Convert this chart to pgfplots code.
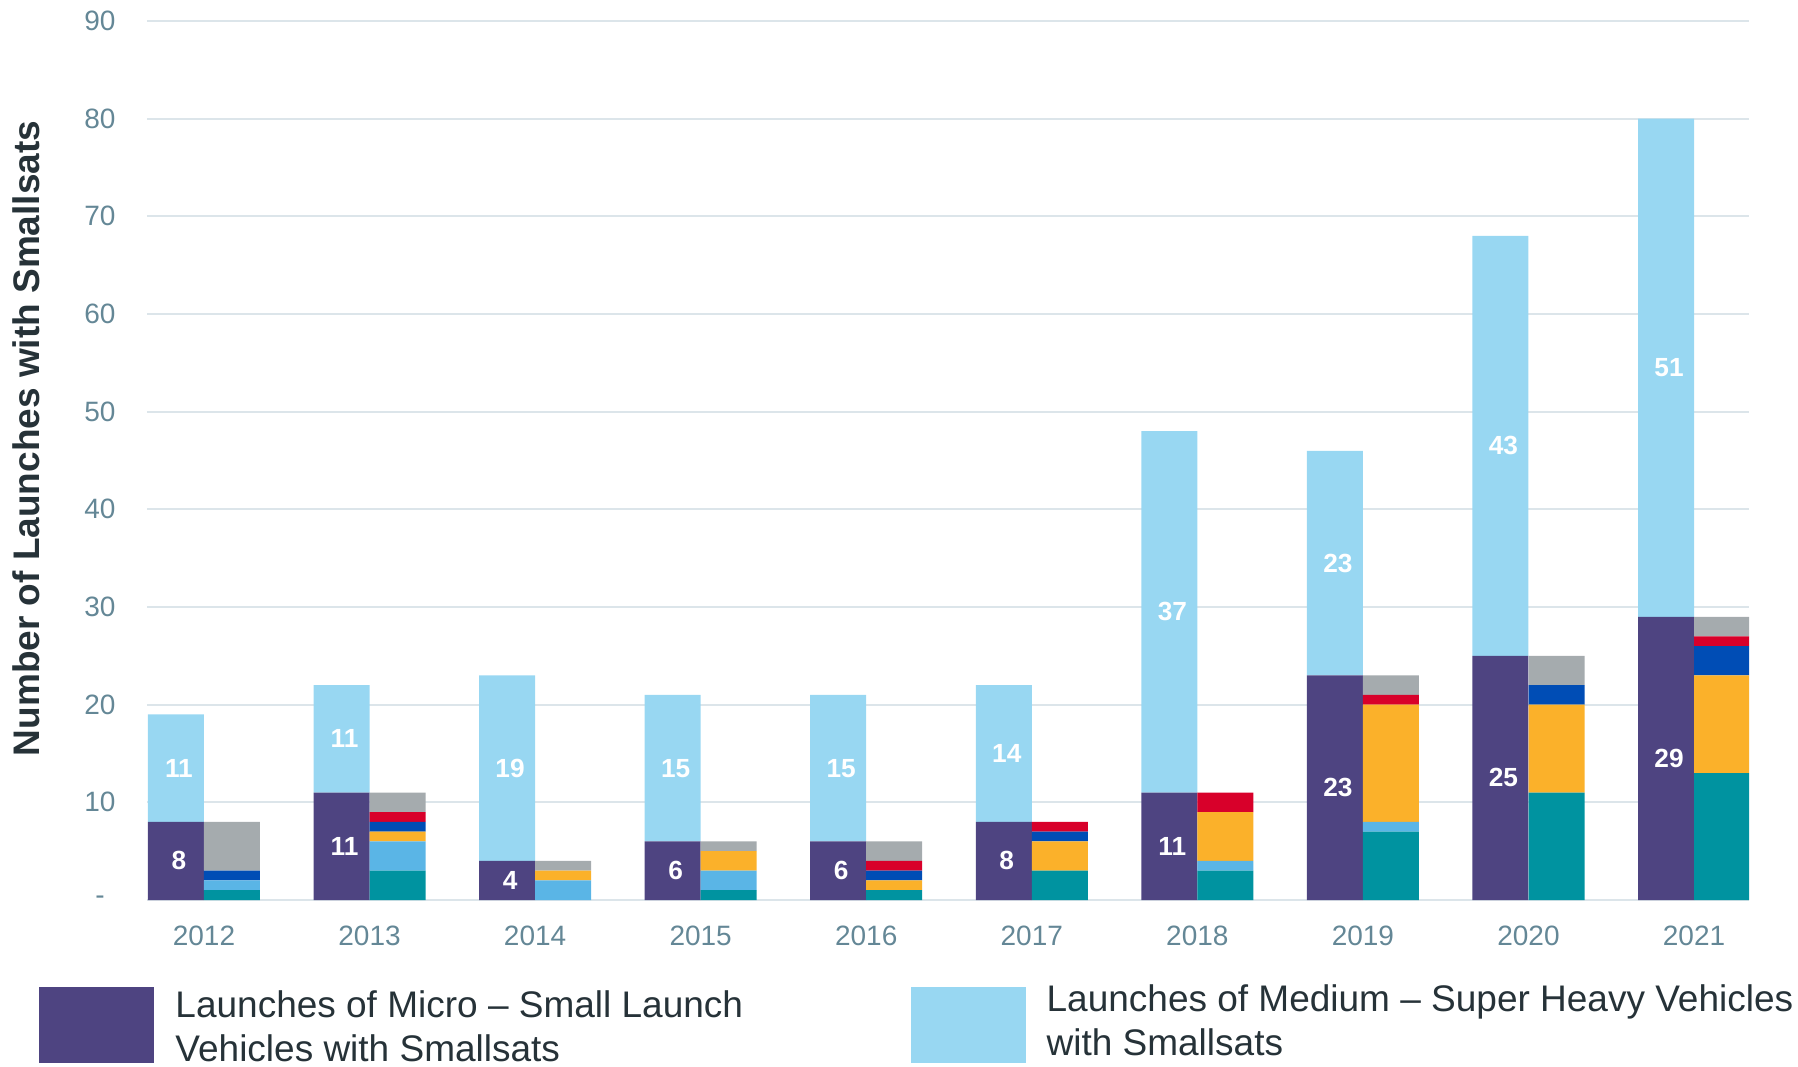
\documentclass[border=0pt]{standalone}
\usepackage{fontspec}
\setmainfont{Liberation Sans}
\usepackage{pgfplots}
\usepackage{pgfplotstable}
\pgfplotsset{compat=1.18}
\definecolor{cmicro}{HTML}{4E4481}
\definecolor{cmed}{HTML}{98D7F2}
\definecolor{cteal}{HTML}{0093A0}
\definecolor{clblue}{HTML}{5AB5E6}
\definecolor{corange}{HTML}{FBB12A}
\definecolor{cdblue}{HTML}{004DB5}
\definecolor{cred}{HTML}{D8002A}
\definecolor{cgray}{HTML}{A5ABAE}
\definecolor{cgrid}{HTML}{DCE5EA}
\definecolor{ctick}{HTML}{648796}
\definecolor{ctext}{HTML}{263238}

\pgfplotstableread{
x micro medium
0 8 11
1 11 11
2 4 19
3 6 15
4 6 15
5 8 14
6 11 37
7 23 23
8 25 43
9 29 51
}\groupA

\pgfplotstableread{
x teal lblue orange dblue red gray
0 1 1 0 1 0 5
1 3 3 1 1 1 2
2 0 2 1 0 0 1
3 1 2 2 0 0 1
4 1 0 1 1 1 2
5 3 0 3 1 1 0
6 3 1 5 0 2 0
7 7 1 12 0 1 2
8 11 0 9 2 0 3
9 13 0 10 3 1 2
}\groupB

\pgfplotsset{
  base/.style={
    width=640.8pt, height=351.6pt, scale only axis,
    at={(0,0)}, anchor=south west,
    xmin=-0.344, xmax=9.332, ymin=0, ymax=90,
  },
  sqlegend/.style={legend image code/.code={\fill[##1,draw=none] (0pt,-16.6pt) rectangle (46pt,13.8pt);}},
  barlbl/.style={draw=none, mark=none, nodes near coords, point meta=explicit symbolic,
    every node near coord/.append style={anchor=center, xshift=-10pt, text=white,
      font=\bfseries\fontsize{10.5}{12}\selectfont}},
}

\begin{document}
\begin{tikzpicture}
\begin{axis}[base, ybar stacked, bar width=22.4pt,
  axis line style={draw=none}, major tick length=0pt,
  ymajorgrids, major grid style={cgrid, line width=0.8pt},
  xtick={0,1,2,3,4,5,6,7,8,9},
  xticklabels={2012,2013,2014,2015,2016,2017,2018,2019,2020,2021},
  ytick={0,10,20,30,40,50,60,70,80,90},
  yticklabels={-,10,20,30,40,50,60,70,80,90},
  tick label style={font=\fontsize{11.2}{13}\selectfont, text=ctick},
  yticklabel style={anchor=center, xshift=-18.8pt},
  xticklabel style={yshift=-7pt},
  ylabel={Number of Launches with Smallsats},
  ylabel style={font=\bfseries\fontsize{14.8}{16}\selectfont, text=ctext, at={(axis description cs:-0.0755,0.525)}, anchor=center},
  legend columns=2,
  legend style={at={(axis description cs:0,0)}, anchor=north west, xshift=-43.2pt, yshift=-33.6pt,
    draw=none, fill=none, inner sep=0pt, font=\fontsize{14.8}{17.6}\selectfont, text=ctext,
    nodes={inner sep=0pt, align=left},
    /tikz/every odd column/.append style={column sep=8.4pt},
    /tikz/column 2/.append style={column sep=67pt}},
]
\addplot[fill=cmicro, draw=none, bar shift=-11.2pt, sqlegend] table[x=x,y=micro]{\groupA};
\addlegendentry[yshift=-2.4pt]{Launches of Micro – Small Launch\\Vehicles with Smallsats}
\addplot[fill=cmed, draw=none, bar shift=-11.2pt, sqlegend] table[x=x,y=medium]{\groupA};
\addlegendentry{Launches of Medium – Super Heavy Vehicles\\with Smallsats}
\end{axis}

\begin{axis}[base, hide axis, ybar stacked, bar width=22.4pt]
\addplot[fill=cteal, draw=none, bar shift=11.2pt] table[x=x,y=teal]{\groupB};
\addplot[fill=clblue, draw=none, bar shift=11.2pt] table[x=x,y=lblue]{\groupB};
\addplot[fill=corange, draw=none, bar shift=11.2pt] table[x=x,y=orange]{\groupB};
\addplot[fill=cdblue, draw=none, bar shift=11.2pt] table[x=x,y=dblue]{\groupB};
\addplot[fill=cred, draw=none, bar shift=11.2pt] table[x=x,y=red]{\groupB};
\addplot[fill=cgray, draw=none, bar shift=11.2pt] table[x=x,y=gray]{\groupB};
\end{axis}

\begin{axis}[base, hide axis]
\addplot[barlbl] table[x=x, y expr=\thisrow{micro}/2, meta=micro]{\groupA};
\addplot[barlbl] table[x=x, y expr=\thisrow{micro}+\thisrow{medium}/2, meta=medium]{\groupA};
\end{axis}

\path (-58.8pt,-66.4pt) rectangle (660.4pt,360pt);
\end{tikzpicture}
\end{document}
